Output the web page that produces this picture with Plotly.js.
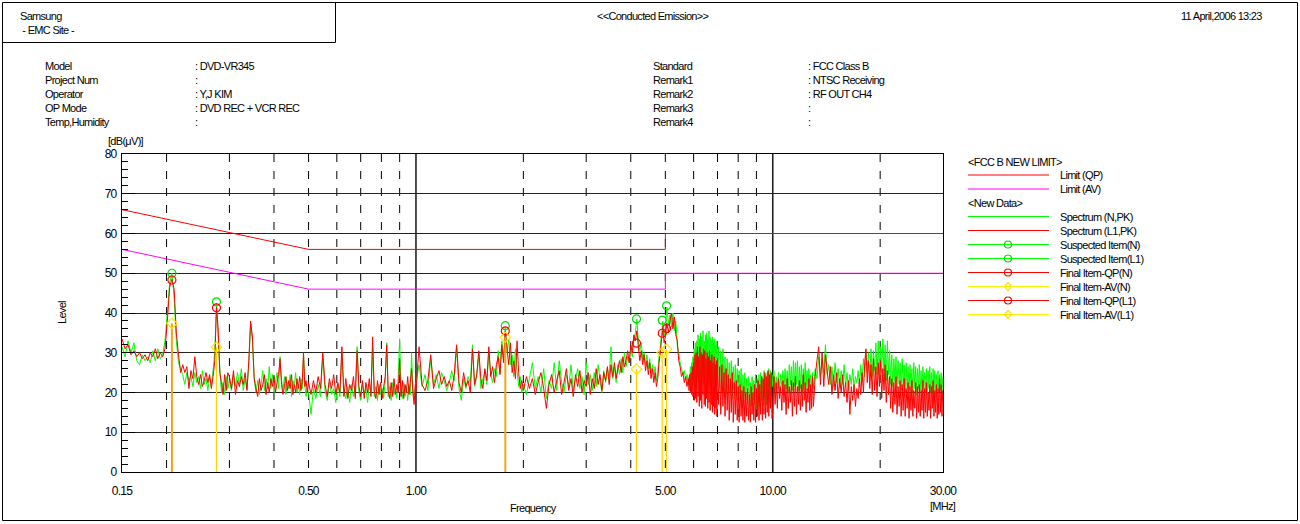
<!DOCTYPE html>
<html>
<head>
<meta charset="utf-8">
<script src="https://cdn.plot.ly/plotly-3.0.1.min.js"></script>
<style>
  html, body { margin: 0; padding: 0; background: #fff; }
  #chart { width: 1300px; height: 524px; }
  /* tight, narrow report lettering (also applied to the text measuring node) */
  svg text { letter-spacing: -0.7px; }
</style>
</head>
<body>
<div id="chart"></div>
<script>
// ---------------------------------------------------------------
// Conducted emission sweep: frequency grid (MHz) shared by both lines
// ---------------------------------------------------------------
const sweepFreq = [
  // 0.15 - 0.30
  0.150,0.153,0.156,0.159,0.162,0.165,0.168,0.171,0.174,0.177,
  0.180,0.183,0.186,0.189,0.192,0.195,0.198,0.201,0.204,0.207,
  0.210,0.213,0.216,0.219,0.222,0.225,0.228,0.231,0.234,0.237,
  0.240,0.243,0.246,0.249,0.252,0.255,0.258,0.261,0.264,0.267,
  0.270,0.273,0.276,0.279,0.282,0.285,0.288,0.291,0.294,0.297,
  // 0.30 - 0.50
  0.300,0.304,0.308,0.312,0.316,0.320,0.324,0.328,0.332,0.336,
  0.340,0.344,0.348,0.352,0.356,0.360,0.364,0.368,0.372,0.376,
  0.380,0.384,0.388,0.392,0.396,0.400,0.404,0.408,0.412,0.416,
  0.420,0.424,0.428,0.432,0.436,0.440,0.444,0.448,0.452,0.456,
  0.460,0.464,0.468,0.472,0.476,0.480,0.484,0.488,0.492,0.496,
  // 0.5 - 1.0
  0.500,0.508,0.516,0.524,0.532,0.540,0.548,0.556,0.564,0.572,
  0.580,0.588,0.596,0.604,0.612,0.620,0.628,0.636,0.644,0.652,
  0.660,0.668,0.676,0.684,0.692,0.700,0.708,0.716,0.724,0.732,
  0.740,0.748,0.756,0.764,0.772,0.780,0.788,0.796,0.804,0.812,
  0.820,0.828,0.836,0.844,0.852,0.860,0.868,0.876,0.884,0.892,
  0.900,0.908,0.916,0.924,0.932,0.940,0.948,0.956,0.964,0.972,
  0.980,0.988,0.996,
  // 1 - 2
  1.00,1.02,1.04,1.06,1.08,1.10,1.12,1.14,1.16,1.18,
  1.20,1.22,1.24,1.26,1.28,1.30,1.32,1.34,1.36,1.38,
  1.40,1.42,1.44,1.46,1.48,1.50,1.52,1.54,1.56,1.58,
  1.60,1.62,1.64,1.66,1.68,1.70,1.72,1.74,1.76,1.78,
  1.80,1.82,1.84,1.86,1.88,1.90,1.92,1.94,1.96,1.98,
  // 2 - 5
  2.00,2.04,2.08,2.12,2.16,2.20,2.24,2.28,2.32,2.36,
  2.40,2.44,2.48,2.52,2.56,2.60,2.64,2.68,2.72,2.76,
  2.80,2.84,2.88,2.92,2.96,3.00,3.04,3.08,3.12,3.16,
  3.20,3.24,3.28,3.32,3.36,3.40,3.44,3.48,3.52,3.56,
  3.60,3.64,3.68,3.72,3.76,3.80,3.84,3.88,3.92,3.96,
  4.00,4.04,4.08,4.12,4.16,4.20,4.24,4.28,4.32,4.36,
  4.40,4.44,4.48,4.52,4.56,4.60,4.64,4.68,4.72,4.76,
  4.80,4.84,4.88,4.92,4.96,
  // 5 - 5.8
  5.00,5.05,5.10,5.15,5.20,5.25,5.30,5.35,5.40,5.45,
  5.50,5.55,5.60,5.65,5.70,5.75,
  // 5.8 - 7 (finer step)
  5.800,5.825,5.850,5.875,5.900,5.925,5.950,5.975,6.000,6.025,
  6.050,6.075,6.100,6.125,6.150,6.175,6.200,6.225,6.250,6.275,
  6.300,6.325,6.350,6.375,6.400,6.425,6.450,6.475,6.500,6.525,
  6.550,6.575,6.600,6.625,6.650,6.675,6.700,6.725,6.750,6.775,
  6.800,6.825,6.850,6.875,6.900,6.925,6.950,6.975,
  // 7 - 10
  7.00,7.05,7.10,7.15,7.20,7.25,7.30,7.35,7.40,7.45,
  7.50,7.55,7.60,7.65,7.70,7.75,7.80,7.85,7.90,7.95,
  8.00,8.05,8.10,8.15,8.20,8.25,8.30,8.35,8.40,8.45,
  8.50,8.55,8.60,8.65,8.70,8.75,8.80,8.85,8.90,8.95,
  9.00,9.05,9.10,9.15,9.20,9.25,9.30,9.35,9.40,9.45,
  9.50,9.55,9.60,9.65,9.70,9.75,9.80,9.85,9.90,9.95,
  // 10 - 13 (finer step)
  10.000,10.075,10.150,10.225,10.300,10.375,10.450,10.525,10.600,10.675,
  10.750,10.825,10.900,10.975,11.050,11.125,11.200,11.275,11.350,11.425,
  11.500,11.575,11.650,11.725,11.800,11.875,11.950,12.025,12.100,12.175,
  12.250,12.325,12.400,12.475,12.550,12.625,12.700,12.775,12.850,12.925,
  // 13 - 30
  13.00,13.15,13.30,13.45,13.60,13.75,13.90,14.05,14.20,14.35,
  14.50,14.65,14.80,14.95,15.10,15.25,15.40,15.55,15.70,15.85,
  16.00,16.15,16.30,16.45,16.60,16.75,16.90,17.05,17.20,17.35,
  17.50,17.65,17.80,17.95,18.10,18.25,18.40,18.55,18.70,18.85,
  19.00,19.15,19.30,19.45,19.60,19.75,19.90,20.05,20.20,20.35,
  20.50,20.65,20.80,20.95,21.10,21.25,21.40,21.55,21.70,21.85,
  22.00,22.15,22.30,22.45,22.60,22.75,22.90,23.05,23.20,23.35,
  23.50,23.65,23.80,23.95,24.10,24.25,24.40,24.55,24.70,24.85,
  25.00,25.15,25.30,25.45,25.60,25.75,25.90,26.05,26.20,26.35,
  26.50,26.65,26.80,26.95,27.10,27.25,27.40,27.55,27.70,27.85,
  28.00,28.15,28.30,28.45,28.60,28.75,28.90,29.05,29.20,29.35,
  29.50,29.65,29.80,29.95
];

// Peak-detector level on the N line, dB(uV)
const spectrumN = [
  // 0.15 - 0.30
  31.5,29.0,33.0,30.0,32.5,28.0,27.0,29.5,28.0,29.0, 27.5,30.5,28.0,31.0,28.5,29.5,33.0,40.0,47.5,50.0,
  44.0,33.0,27.5,26.0,24.5,22.0,25.0,23.0,24.0,21.5, 25.0,22.5,24.0,21.0,25.5,22.0,23.5,20.5,24.0,22.0,
  25.5,30.0,42.5,34.0,26.0,20.0,22.5,19.5,24.0,21.0,
  // 0.30 - 0.50
  23.0,20.5,24.5,21.5,25.0,22.0,26.0,20.5,23.5,21.0, 27.0,37.5,33.0,24.0,20.0,23.0,19.5,22.0,25.5,20.5,
  23.5,21.0,26.5,21.0,24.5,20.0,22.5,25.0,21.0,29.0, 23.0,20.5,24.0,19.5,22.5,21.0,24.5,19.0,23.0,21.5,
  25.0,20.0,22.0,19.5,23.5,21.0,29.5,22.0,19.0,21.0,
  // 0.5 - 1.0
  20.0,14.5,21.0,18.5,22.0,19.0,29.5,20.5,18.0,22.5, 19.5,21.0,17.5,22.0,19.0,30.0,20.5,18.5,21.5,17.5,
  22.0,19.0,21.0,31.5,20.0,18.0,22.5,19.5,21.0,17.5, 22.0,20.0,31.0,19.0,21.5,18.0,22.0,19.5,21.0,18.5,
  23.0,32.5,19.0,21.5,18.0,22.5,19.5,21.0,18.5,24.0, 33.5,20.0,18.5,22.5,19.0,21.5,18.0,22.0,19.5,30.0,
  21.0,18.5,21.5,
  // 1 - 2
  22.0,27.0,21.5,24.5,20.5,28.5,22.0,24.5,21.0,25.0, 23.0,20.5,22.5,25.5,23.0,31.5,21.0,18.0,23.5,21.0,
  24.0,22.5,32.0,21.5,24.0,29.5,21.0,23.5,25.0,22.0, 30.5,24.5,22.5,26.0,24.0,30.5,25.0,33.0,28.5,36.5,
  30.0,33.5,27.0,29.5,24.0,31.0,25.5,21.5,24.0,20.0,
  // 2 - 5
  22.0,19.5,23.5,27.5,21.0,24.0,20.0,26.0,18.5,23.0, 21.0,27.5,20.5,28.0,22.5,20.0,24.5,21.5,27.0,20.5,
  23.5,26.0,21.0,24.0,19.5,27.5,22.0,24.5,20.5,25.0, 21.5,27.0,23.0,20.0,25.5,22.5,26.0,24.0,31.5,23.5,
  26.5,22.5,27.0,24.5,28.5,25.0,30.0,26.5,29.0,27.5, 31.0,29.0,33.5,35.0,38.5,33.0,30.5,32.5,28.5,30.0,
  27.0,29.5,26.0,28.5,25.0,27.0,24.5,26.5,23.0,25.0, 29.0,31.5,35.0,38.0,34.0,
  // 5 - 5.8
  36.0,41.5,37.0,39.5,36.5,40.0,35.5,38.0,32.0,30.0, 27.5,26.0,24.5,25.5,23.0,24.5,
  // 5.8 - 7
  22.0,24.0,21.5,26.5,22.0,27.5,21.5,29.0,22.5,31.0, 23.0,32.5,21.0,33.0,24.0,34.5,22.5,33.5,23.5,35.0,
  21.0,34.0,24.5,35.5,22.0,33.0,23.5,34.5,21.5,35.0, 24.0,33.5,22.5,35.5,21.0,34.0,23.0,33.0,21.5,34.0,
  22.5,32.5,20.5,33.5,22.0,32.0,21.0,33.0,
  // 7 - 10
  22.0,31.5,21.0,30.5,20.0,31.0,21.5,29.0,19.5,28.5, 21.0,27.5,20.0,28.0,18.5,26.5,20.5,27.0,19.0,26.0,
  18.0,25.5,19.5,26.0,17.5,24.5,19.0,25.0,18.0,23.5, 17.0,24.0,18.5,22.5,16.5,24.0,18.0,23.0,17.0,24.5,
  16.0,23.5,17.5,24.5,16.5,25.0,18.0,24.0,17.0,25.5, 18.5,24.5,17.0,25.0,18.5,26.0,17.5,25.5,19.0,24.5,
  // 10 - 13
  21.5,25.5,20.5,24.0,21.0,25.0,20.0,24.5,21.5,25.5, 20.5,26.0,21.0,25.5,20.0,27.0,22.0,26.5,20.5,28.0,
  21.5,27.5,22.0,28.0,20.5,26.5,21.0,27.0,20.0,26.0, 22.0,27.5,21.0,25.5,20.5,26.0,21.5,24.5,20.0,25.0,
  // 13 - 30
  21.0,26.0,23.5,29.0,24.0,28.5,25.0,32.0,24.5,27.0, 22.0,26.5,21.5,27.5,22.5,26.0,21.0,25.5,22.0,27.0,
  21.5,25.0,20.5,24.5,22.0,26.0,21.0,24.0,22.5,25.5, 21.5,27.0,23.0,28.5,24.0,29.5,25.0,30.0,23.5,31.0,
  24.0,30.5,25.5,32.5,24.5,33.0,23.5,31.5,25.0,33.5, 24.0,32.0,23.0,33.0,24.5,30.5,22.0,29.5,21.5,28.5,
  22.5,29.0,21.0,28.0,22.0,27.5,20.5,28.5,21.5,27.0, 20.0,27.5,21.0,26.5,20.5,27.0,21.5,26.0,20.0,27.5,
  21.0,26.5,19.5,26.0,21.0,27.0,20.5,25.5,19.0,26.5, 21.0,25.0,20.0,26.0,19.5,25.5,21.0,26.5,20.0,25.0,
  19.5,26.0,20.5,25.5,19.0,24.5,21.0,25.5,20.0,24.5, 20.5,25.0,19.5,24.0
];

// Peak-detector level on the L1 line, dB(uV)
const spectrumL1 = [
  // 0.15 - 0.30
  33.5,31.0,32.0,29.5,30.5,29.0,30.0,28.5,29.5,28.0, 30.0,29.0,31.0,28.5,30.0,29.0,31.0,38.0,46.5,48.5,
  46.0,35.0,29.5,25.0,27.0,25.0,26.5,21.0,25.5,23.5, 29.0,24.0,22.0,24.5,21.5,23.0,25.0,22.5,24.5,21.0,
  24.0,28.0,41.5,36.0,25.0,22.5,19.5,24.5,20.5,25.0,
  // 0.30 - 0.50
  24.0,21.0,25.5,19.5,23.0,21.5,24.0,22.0,25.0,20.5, 28.0,38.0,34.0,23.5,21.0,19.0,23.5,20.5,22.0,24.5,
  19.5,22.5,20.0,23.5,21.5,24.0,20.0,22.5,24.5,28.5, 22.0,19.5,21.5,24.0,20.5,23.0,21.0,24.5,19.5,22.0,
  20.0,23.5,21.0,24.0,20.5,22.5,30.0,21.5,23.0,20.0,
  // 0.5 - 1.0
  22.5,19.5,23.0,20.0,24.0,21.0,30.0,22.0,19.0,23.5, 21.0,24.5,19.5,22.5,20.0,31.5,19.0,23.5,18.5,22.0,
  20.5,24.0,18.5,30.5,21.5,19.0,23.0,18.5,22.5,20.0, 23.5,19.0,34.0,20.5,18.5,23.0,19.5,22.5,18.5,21.5,
  24.0,32.0,20.5,18.5,22.5,19.0,23.5,19.5,22.0,20.0, 28.0,19.0,23.0,18.5,22.0,20.0,24.0,19.5,22.5,26.0,
  20.0,17.0,22.0,
  // 1 - 2
  20.5,31.5,22.0,20.5,23.0,29.5,21.0,23.5,25.5,22.0, 24.0,21.5,23.0,20.5,24.5,32.0,22.5,20.0,25.0,21.5,
  23.0,20.0,31.0,22.0,24.5,30.5,23.5,21.0,26.0,23.0, 31.5,24.0,26.5,22.5,27.0,29.0,24.5,32.0,27.5,35.5,
  31.0,27.0,32.5,25.0,28.0,23.5,33.0,25.0,21.0,23.0,
  // 2 - 5
  20.5,24.0,21.0,23.5,19.5,22.5,25.0,21.0,16.0,22.0, 24.5,20.0,23.0,25.5,19.5,22.5,26.0,20.5,23.5,19.0,
  24.5,21.5,25.5,20.0,23.0,21.5,25.0,19.5,23.5,21.0, 26.0,22.0,24.5,20.5,25.0,23.0,26.5,22.0,27.0,24.0,
  27.5,23.5,26.0,28.0,25.0,29.0,26.5,28.0,30.5,27.5, 32.0,30.0,34.5,33.0,35.5,31.5,28.0,30.5,27.0,29.5,
  25.5,28.0,24.5,27.5,23.5,26.0,22.5,25.0,21.5,23.5, 27.5,30.0,33.5,35.5,32.5,
  // 5 - 5.8
  34.0,37.5,35.0,38.0,40.0,36.0,39.0,34.5,33.0,28.0, 26.5,24.0,25.0,22.5,24.0,21.5,
  // 5.8 - 7
  23.5,20.5,24.5,20.0,25.0,19.5,26.5,19.0,27.5,18.0, 29.5,18.5,30.0,17.5,31.5,19.0,29.0,16.5,31.5,18.0,
  30.0,16.0,29.5,19.5,31.0,17.0,30.5,16.5,28.5,18.5, 30.0,16.0,29.0,17.5,30.5,15.5,28.0,17.0,29.5,15.0,
  27.5,16.5,29.0,14.5,27.0,16.0,28.0,14.0,
  // 7 - 10
  28.5,17.0,26.5,14.5,27.0,16.5,25.0,14.0,26.0,15.5, 24.5,13.0,23.5,15.0,25.0,12.5,22.5,14.5,23.0,13.0,
  21.5,12.5,22.0,14.0,20.5,13.0,21.5,12.5,20.0,14.0, 21.0,13.0,19.5,12.5,21.5,14.5,20.0,13.0,22.0,12.5,
  21.0,14.0,23.0,13.0,22.0,14.5,24.0,13.0,23.5,14.5, 25.0,13.5,24.0,15.0,25.5,14.0,24.5,16.0,25.0,13.5,
  // 10 - 13
  15.0,24.0,17.0,22.5,16.0,23.5,18.5,21.5,15.5,23.0, 17.5,22.0,14.5,23.5,16.0,21.5,17.5,23.0,14.0,22.5,
  16.5,24.0,14.5,21.5,17.0,23.0,15.5,22.0,16.5,24.5, 18.0,22.5,15.0,21.0,17.5,23.5,15.5,22.0,16.0,24.0,
  // 13 - 30
  16.5,24.0,28.0,31.5,22.0,30.0,21.5,29.5,25.5,22.0, 26.5,19.5,24.5,20.5,25.0,18.5,23.5,20.0,24.5,19.0,
  22.5,17.5,23.0,14.5,21.5,18.0,22.0,16.5,21.0,18.5, 23.5,19.5,25.0,20.0,27.5,31.0,22.5,28.0,21.0,27.0,
  19.5,28.5,20.5,26.5,19.0,27.5,21.5,28.0,18.5,26.0, 20.5,27.0,17.5,25.5,19.5,24.0,16.0,23.5,15.0,22.5,
  17.0,24.0,14.5,21.5,16.5,23.0,14.0,22.0,15.5,23.5, 14.0,21.0,16.0,22.5,13.5,21.5,15.5,23.0,14.0,20.5,
  16.0,22.5,13.5,21.5,15.0,22.0,14.0,20.5,15.5,23.0, 13.5,21.0,15.0,22.5,14.0,20.0,15.5,22.0,13.5,21.5,
  16.0,23.0,14.0,20.5,15.0,22.0,13.5,21.0,14.5,23.5, 15.0,22.0,14.0,20.5
];

// FCC Class B conducted limits
const limitFreq = [0.15, 0.50, 5.00, 5.00, 30.00];
const limitQP   = [66, 56, 56, 60, 60];
const limitAV   = [56, 46, 46, 50, 50];

// Suspected items (peak scan) and final QP / AV measurements
const suspectFreqN   = [0.207, 1.78];
const suspectLevelN  = [50.0, 36.8];
const suspectFreqL1  = [0.276, 4.15, 4.90, 5.04];
const suspectLevelL1 = [42.8, 38.5, 38.2, 41.8];
const finalFreqN     = [0.207, 1.78];
const finalQpN       = [48.3, 35.5];
const finalAvN       = [37.4, 33.9];
const finalFreqL1    = [0.276, 4.15, 4.90, 5.04];
const finalQpL1      = [41.3, 32.4, 34.9, 36.1];
const finalAvL1      = [31.4, 25.9, 30.0, 30.9];

// Axis labelling
const xTickVals   = [0.15, 0.5, 1, 5, 10, 30];
const xTickText   = ['0.15', '0.50', '1.00', '5.00', '10.00', '30.00'];
const dashedGridF = [0.2, 0.3, 0.4, 0.5, 0.6, 0.7, 0.8, 0.9, 2, 3, 4, 5, 6, 7, 8, 9, 20];
const solidGridF  = [1, 10];

// Report header
const reportTitle = '<<Conducted Emission>>';
const reportDate  = '11 April,2006 13:23';
const siteLines   = ['Samsung', ' - EMC Site -'];
const infoLabelsL = ['Model', 'Project Num', 'Operator', 'OP Mode', 'Temp,Humidity'];
const infoValuesL = [': DVD-VR345', ':', ': Y,J KIM', ': DVD REC + VCR REC', ':'];
const infoLabelsR = ['Standard', 'Remark1', 'Remark2', 'Remark3', 'Remark4'];
const infoValuesR = [': FCC Class B', ': NTSC Receiving', ': RF OUT CH4', ':', ':'];

if (spectrumN.length !== sweepFreq.length || spectrumL1.length !== sweepFreq.length) {
  throw new Error('sweep length mismatch: ' + sweepFreq.length + ' / ' + spectrumN.length + ' / ' + spectrumL1.length);
}

// ---------------------------------------------------------------
// Page geometry (pixels) and helpers to place things in paper space
// ---------------------------------------------------------------
const FONT = 'Liberation Sans Narrow, Arial Narrow, Liberation Sans, Arial, sans-serif';
const W = 1300, H = 524;
const PL = 122, PR = 943, PT = 154, PB = 472;
const px2x = p => (p - PL) / (PR - PL);
const px2y = p => (PB - p) / (PB - PT);
const LOG0 = Math.log10(0.15), LOG1 = Math.log10(30);
const f2x = f => (Math.log10(f) - LOG0) / (LOG1 - LOG0);

const COL = {
  qp: '#ff0000', av: '#ff00ff', green: '#00ff00', red: '#ff0000',
  suspect: '#00dd00', final: '#ff0000', avMark: '#ffe100',
  stemN: '#f5a418', stemL1: '#ffd400'
};

function stemXY(freqs, levels) {
  const x = [], y = [];
  freqs.forEach((f, i) => { x.push(f, f, null); y.push(0, levels[i], null); });
  return { x, y };
}

const stemN = stemXY(finalFreqN, finalAvN);
const stemL1 = stemXY(finalFreqL1, finalAvL1);

const traces = [
  { x: limitFreq, y: limitQP, mode: 'lines', line: { color: COL.qp, width: 1 } },
  { x: limitFreq, y: limitAV, mode: 'lines', line: { color: COL.av, width: 1 } },
  { x: sweepFreq, y: spectrumN, mode: 'lines', line: { color: COL.green, width: 1, simplify: false } },
  { x: sweepFreq, y: spectrumL1, mode: 'lines', line: { color: COL.red, width: 1, simplify: false } },
  { x: stemN.x, y: stemN.y, mode: 'lines', line: { color: COL.stemN, width: 2 } },
  { x: stemL1.x, y: stemL1.y, mode: 'lines', line: { color: COL.stemL1, width: 1.3 } },
  { x: suspectFreqN, y: suspectLevelN, mode: 'markers', marker: { symbol: 'circle-open', size: 8, color: COL.suspect, line: { width: 1.2 } } },
  { x: suspectFreqL1, y: suspectLevelL1, mode: 'markers', marker: { symbol: 'circle-open', size: 8, color: COL.suspect, line: { width: 1.2 } } },
  { x: finalFreqN, y: finalQpN, mode: 'markers', marker: { symbol: 'circle-open', size: 8, color: COL.final, line: { width: 1.2 } } },
  { x: finalFreqN, y: finalAvN, mode: 'markers', marker: { symbol: 'diamond-open', size: 8, color: COL.avMark, line: { width: 1.2 } } },
  { x: finalFreqL1, y: finalQpL1, mode: 'markers', marker: { symbol: 'circle-open', size: 8, color: COL.final, line: { width: 1.2 } } },
  { x: finalFreqL1, y: finalAvL1, mode: 'markers', marker: { symbol: 'diamond-open', size: 8, color: COL.avMark, line: { width: 1.2 } } }
].map(t => Object.assign({ type: 'scatter', hoverinfo: 'skip', showlegend: false, cliponaxis: true }, t));

// ---------------------------------------------------------------
// Shapes: page frame, header box, frequency grid, key
// ---------------------------------------------------------------
const shapes = [];
const pline = (x0, y0, x1, y1, line) => shapes.push({
  type: 'line', xref: 'paper', yref: 'paper',
  x0: px2x(x0), y0: px2y(y0), x1: px2x(x1), y1: px2y(y1), line
});

shapes.push({ type: 'rect', xref: 'paper', yref: 'paper',
  x0: px2x(2.5), x1: px2x(1297.5), y0: px2y(2.5), y1: px2y(520.5),
  line: { color: '#000', width: 1 } });
pline(2.5, 42.5, 335.5, 42.5, { color: '#000', width: 1 });
pline(335.5, 2.5, 335.5, 42.5, { color: '#000', width: 1 });

dashedGridF.forEach(f => shapes.push({
  type: 'line', layer: 'below', xref: 'paper', yref: 'y',
  x0: f2x(f), x1: f2x(f), y0: 80, y1: 0,
  line: { color: '#000', width: 1, dash: '8px,9px' }
}));
solidGridF.forEach(f => shapes.push({
  type: 'line', layer: 'below', xref: 'paper', yref: 'y',
  x0: f2x(f), x1: f2x(f), y0: 80, y1: 0,
  line: { color: '#222', width: 1.6 }
}));

// Key entries
const keyGroups = [
  { title: '<FCC B NEW LIMIT>', y: 161.5, items: [
    { label: 'Limit (QP)', color: COL.qp },
    { label: 'Limit (AV)', color: COL.av }
  ] },
  { title: '<New Data>', y: 203, items: [
    { label: 'Spectrum (N,PK)', color: COL.green },
    { label: 'Spectrum (L1,PK)', color: COL.red },
    { label: 'Suspected Item(N)', color: COL.green, mark: 'circle', markColor: COL.suspect },
    { label: 'Suspected Item(L1)', color: COL.green, mark: 'circle', markColor: COL.suspect },
    { label: 'Final Item-QP(N)', color: COL.red, mark: 'circle', markColor: COL.final },
    { label: 'Final Item-AV(N)', color: '#ffee00', mark: 'diamond', markColor: COL.avMark },
    { label: 'Final Item-QP(L1)', color: COL.red, mark: 'circle', markColor: COL.final },
    { label: 'Final Item-AV(L1)', color: '#ffee00', mark: 'diamond', markColor: COL.avMark }
  ] }
];

const annotations = [];
const text = (s, x, y, opts) => annotations.push(Object.assign({
  text: s, x: px2x(x), y: px2y(y), xref: 'paper', yref: 'paper',
  showarrow: false, xanchor: 'left', yanchor: 'middle',
  font: { family: FONT, size: 11, color: '#000' }
}, opts || {}));

const KEY_X0 = 968, KEY_X1 = 1049, KEY_MX = 1008, KEY_TX = 1058, KEY_STEP = 14;
keyGroups.forEach(g => {
  text(g.title, KEY_X0 - 2, g.y);
  g.items.forEach((it, i) => {
    const y = g.y + KEY_STEP * (i + 1) - 0.5;
    pline(KEY_X0, y, KEY_X1, y, { color: it.color, width: 1 });
    if (it.mark === 'circle') {
      shapes.push({ type: 'circle', xref: 'paper', yref: 'paper',
        xsizemode: 'pixel', ysizemode: 'pixel', xanchor: px2x(KEY_MX), yanchor: px2y(y),
        x0: -3.5, x1: 3.5, y0: -3.5, y1: 3.5, line: { color: it.markColor, width: 1.2 } });
    } else if (it.mark === 'diamond') {
      shapes.push({ type: 'path', xref: 'paper', yref: 'paper',
        xsizemode: 'pixel', ysizemode: 'pixel', xanchor: px2x(KEY_MX), yanchor: px2y(y),
        path: 'M0,-4L3.5,0L0,4L-3.5,0Z', line: { color: it.markColor, width: 1.2 } });
    }
    text(it.label, KEY_TX, y);
  });
});

// ---------------------------------------------------------------
// Header texts and axis captions
// ---------------------------------------------------------------
text(siteLines[0], 18, 16);
text(siteLines[1], 18, 30);
text(reportTitle, 652, 16, { xanchor: 'center' });
text(reportDate, 1264, 16, { xanchor: 'right' });

const infoRowY = [66, 80, 94, 108, 122];
infoRowY.forEach((y, i) => {
  text(infoLabelsL[i], 43, y);
  text(infoValuesL[i], 193, y);
  text(infoLabelsR[i], 651, y);
  text(infoValuesR[i], 806, y);
});

text('[dB(\u03bcV)]', 106, 141);
text('Level', 62, 313, { xanchor: 'center', textangle: -90 });
text('Frequency', 533, 508, { xanchor: 'center' });
text('[MHz]', 943, 506, { xanchor: 'center' });

// ---------------------------------------------------------------
// Layout
// ---------------------------------------------------------------
const layout = {
  width: W, height: H,
  margin: { l: PL, r: W - PR, t: PT, b: H - PB, pad: 0, autoexpand: false },
  paper_bgcolor: '#fff', plot_bgcolor: '#fff',
  showlegend: false,
  font: { family: FONT, size: 12, color: '#000' },
  xaxis: {
    type: 'log', range: [LOG0, LOG1],
    showgrid: false, zeroline: false,
    showline: true, linecolor: '#000', linewidth: 1, mirror: true,
    ticks: '', tickmode: 'array', tickvals: xTickVals, ticktext: xTickText,
    tickfont: { family: FONT, size: 12, color: '#000' },
    ticklabelstandoff: 8
  },
  yaxis: {
    range: [0, 80], tick0: 0, dtick: 10,
    showgrid: true, gridcolor: '#222', gridwidth: 1,
    zeroline: false, showline: true, linecolor: '#000', linewidth: 1, mirror: true,
    ticks: 'inside', ticklen: 13, tickwidth: 1, tickcolor: '#000',
    minor: { ticks: 'inside', ticklen: 6, dtick: 2, tickcolor: '#000', tickwidth: 1, showgrid: false },
    tickfont: { family: FONT, size: 12, color: '#000' },
    ticklabelstandoff: 2
  },
  shapes, annotations
};

Plotly.newPlot('chart', traces, layout, { displayModeBar: false, staticPlot: true });
</script>
</body>
</html>
